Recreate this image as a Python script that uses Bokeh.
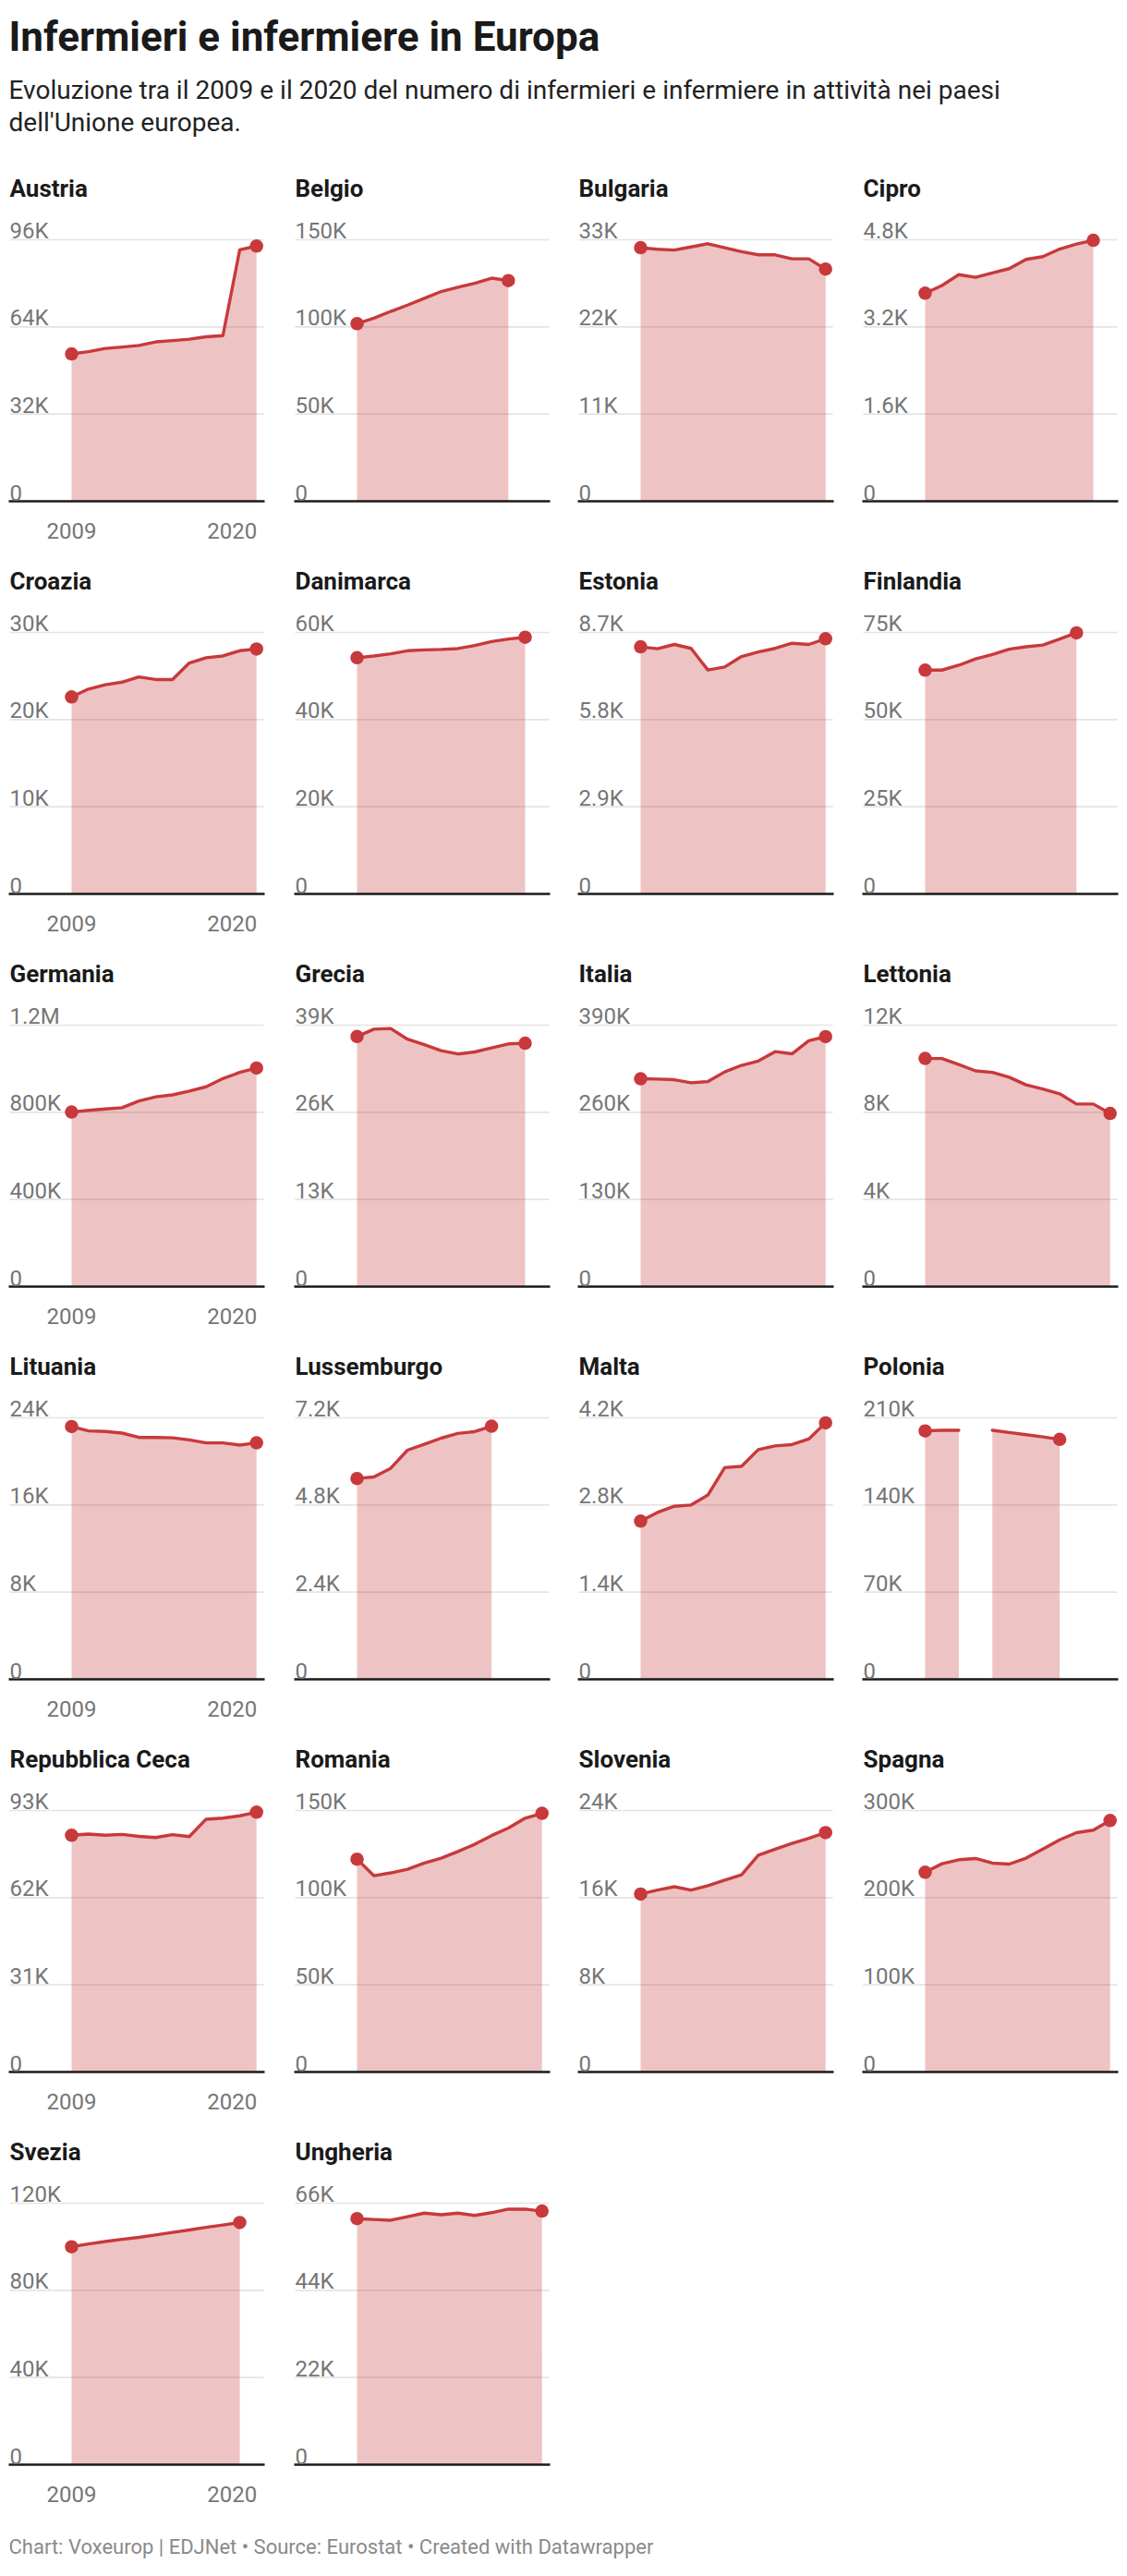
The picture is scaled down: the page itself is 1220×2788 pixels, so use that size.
import numpy as np
from bokeh.plotting import figure
from bokeh.layouts import column, row
from bokeh.models import Range1d
from bokeh.core.properties import value
from bokeh.embed import file_html
from bokeh.resources import INLINE

# ---------------- DATA (values in thousands) ----------------
years = list(range(2009, 2021))

austria = [54.1, 54.9, 56.1, 56.6, 57.2, 58.5, 59.0, 59.5, 60.4, 60.8, 92.3, 93.7]
belgio = [101.9, 105.0, 108.9, 112.5, 116.4, 120.3, 122.8, 125.0, 128.0, 126.6, None, None]
bulgaria = [32.0, 31.8, 31.7, 32.1, 32.5, 32.0, 31.5, 31.1, 31.1, 30.6, 30.6, 29.3]
cipro = [3.82, 3.96, 4.16, 4.11, 4.19, 4.27, 4.44, 4.49, 4.63, 4.72, 4.79, None]
croazia = [22.6, 23.5, 24.0, 24.3, 24.9, 24.6, 24.6, 26.5, 27.1, 27.3, 27.9, 28.1]
danimarca = [54.2, 54.6, 55.1, 55.8, 56.0, 56.1, 56.3, 57.0, 57.9, 58.5, 58.9, None]
estonia = [8.22, 8.16, 8.30, 8.17, 7.45, 7.55, 7.90, 8.05, 8.17, 8.34, 8.30, 8.49]
finlandia = [64.2, 64.2, 65.6, 67.4, 68.7, 70.2, 70.9, 71.4, 73.1, 74.9, None, None]
germania = [801, 809, 815, 821, 852, 871, 880, 897, 917, 955, 983, 1003]
grecia = [37.3, 38.4, 38.5, 36.9, 36.1, 35.2, 34.7, 35.0, 35.6, 36.2, 36.3, None]
italia = [310.0, 309.5, 308.6, 304.0, 305.8, 320.2, 330.0, 336.5, 350.5, 347.2, 366.8, 372.8]
lettonia = [10.47, 10.47, 10.19, 9.90, 9.83, 9.61, 9.26, 9.07, 8.85, 8.38, 8.38, 7.95]
lituania = [23.2, 22.8, 22.75, 22.6, 22.2, 22.2, 22.17, 21.97, 21.7, 21.7, 21.5, 21.7]
lussemburgo = [5.53, 5.57, 5.81, 6.31, 6.47, 6.64, 6.77, 6.82, 6.97, None, None, None]
malta = [2.54, 2.68, 2.78, 2.80, 2.96, 3.40, 3.42, 3.69, 3.75, 3.77, 3.86, 4.12]
polonia = [199.5, 200.0, 200.0, None, 200.0, 198.2, 196.5, 194.7, 192.7, None, None, None]
rep_ceca = [84.2, 84.6, 84.2, 84.5, 83.8, 83.4, 84.4, 83.7, 89.9, 90.3, 91.1, 92.4]
romania = [122.1, 112.6, 114.2, 116.3, 119.9, 122.6, 126.5, 130.6, 135.6, 139.9, 145.6, 148.4]
slovenia = [16.33, 16.7, 17.0, 16.7, 17.1, 17.6, 18.1, 19.9, 20.45, 20.97, 21.45, 21.97]
spagna = [229.2, 238.9, 243.5, 244.9, 239.6, 238.5, 245.3, 255.7, 266.4, 274.6, 277.5, 288.6]
svezia = [100.0, 101.3, 102.4, 103.4, 104.3, 105.4, 106.6, 107.7, 108.9, 110.0, 111.1, None]
ungheria = [62.1, 61.9, 61.7, 62.6, 63.5, 63.1, 63.5, 62.9, 63.6, 64.5, 64.5, 64.0]

names = ["Austria", "Belgio", "Bulgaria", "Cipro", "Croazia", "Danimarca", "Estonia",
         "Finlandia", "Germania", "Grecia", "Italia", "Lettonia", "Lituania",
         "Lussemburgo", "Malta", "Polonia", "Repubblica Ceca", "Romania", "Slovenia",
         "Spagna", "Svezia", "Ungheria"]
series = [austria, belgio, bulgaria, cipro, croazia, danimarca, estonia, finlandia,
          germania, grecia, italia, lettonia, lituania, lussemburgo, malta, polonia,
          rep_ceca, romania, slovenia, spagna, svezia, ungheria]
tick_values = [
    [0, 32, 64, 96], [0, 50, 100, 150], [0, 11, 22, 33], [0, 1.6, 3.2, 4.8],
    [0, 10, 20, 30], [0, 20, 40, 60], [0, 2.9, 5.8, 8.7], [0, 25, 50, 75],
    [0, 400, 800, 1200], [0, 13, 26, 39], [0, 130, 260, 390], [0, 4, 8, 12],
    [0, 8, 16, 24], [0, 2.4, 4.8, 7.2], [0, 1.4, 2.8, 4.2], [0, 70, 140, 210],
    [0, 31, 62, 93], [0, 50, 100, 150], [0, 8, 16, 24], [0, 100, 200, 300],
    [0, 40, 80, 120], [0, 22, 44, 66],
]
tick_labels = [
    ["0", "32K", "64K", "96K"], ["0", "50K", "100K", "150K"], ["0", "11K", "22K", "33K"],
    ["0", "1.6K", "3.2K", "4.8K"], ["0", "10K", "20K", "30K"], ["0", "20K", "40K", "60K"],
    ["0", "2.9K", "5.8K", "8.7K"], ["0", "25K", "50K", "75K"], ["0", "400K", "800K", "1.2M"],
    ["0", "13K", "26K", "39K"], ["0", "130K", "260K", "390K"], ["0", "4K", "8K", "12K"],
    ["0", "8K", "16K", "24K"], ["0", "2.4K", "4.8K", "7.2K"], ["0", "1.4K", "2.8K", "4.2K"],
    ["0", "70K", "140K", "210K"], ["0", "31K", "62K", "93K"], ["0", "50K", "100K", "150K"],
    ["0", "8K", "16K", "24K"], ["0", "100K", "200K", "300K"], ["0", "40K", "80K", "120K"],
    ["0", "22K", "44K", "66K"],
]
x_tick_labels = ["2009", "2020"]

title_text = "Infermieri e infermiere in Europa"
subtitle_lines = ["Evoluzione tra il 2009 e il 2020 del numero di infermieri e infermiere in attività nei paesi",
                  "dell'Unione europea."]
footer_text = "Chart: Voxeurop | EDJNet \u2022 Source: Eurostat \u2022 Created with Datawrapper"

# ---------------- STYLE / LAYOUT ----------------
FONT = value("Roboto")
RED = "#c8393b"
GRID = "#e4e4e4"
TICK_C = "#767676"
DARK = "#1a1a1a"
CELL_H = 425
BASE = 369          # baseline y (px from cell top)
TITLE_Y = 30.7      # panel title baseline (px from cell top)
PLOT_H = 283        # px from 0 to top tick
PPY = 18.2          # px per year
PANEL_OFF = 10
X2009_OFF = 67
PANEL_W = 275
COL_W = [309, 307, 308, 288]
TOTAL_W = sum(COL_W)
TEXT_X = 9


def make_cell(name, vals, ticks, labels, w, show_x):
    top = ticks[-1]
    ppu = PLOT_H / top
    xs = years[0] - (PANEL_OFF + X2009_OFF) / PPY
    p = figure(width=w, height=CELL_H,
               x_range=Range1d(xs, xs + w / PPY),
               y_range=Range1d(-(CELL_H - BASE) / ppu, BASE / ppu),
               x_axis_type=None, y_axis_type=None, toolbar_location=None,
               output_backend="svg", min_border=0, outline_line_color=None,
               background_fill_color="white", border_fill_color="white")
    p0 = xs + PANEL_OFF / PPY
    p1 = p0 + PANEL_W / PPY

    # gridlines
    gt = ticks[1:]
    p.segment(x0=[p0] * len(gt), x1=[p1] * len(gt), y0=gt, y1=gt,
              line_color=GRID, line_width=1.6)

    arr = np.array([np.nan if v is None else v for v in vals], dtype=float)
    yrs = np.array(years, dtype=float)
    # area, contiguous segments
    valid = ~np.isnan(arr)
    i = 0
    n = len(arr)
    while i < n:
        if valid[i]:
            j = i
            while j + 1 < n and valid[j + 1]:
                j += 1
            p.varea(x=yrs[i:j + 1], y1=np.zeros(j - i + 1), y2=arr[i:j + 1],
                    fill_color=RED, fill_alpha=0.3)
            i = j + 1
        else:
            i += 1
    p.line(yrs, arr, line_color=RED, line_width=3.4, line_join="round", line_cap="round")
    idx = np.where(valid)[0]
    ends = [idx[0], idx[-1]]
    p.scatter(yrs[ends], arr[ends], size=14.5, fill_color=RED, line_color=RED, line_width=0)

    # baseline
    p.segment(x0=[p0 - 1 / PPY], x1=[p1 + 1 / PPY], y0=[0], y1=[0],
              line_color=DARK, line_width=2.3)

    # y tick labels above gridlines
    p.text(x=[p0] * len(ticks), y=[t + 9.5 / ppu for t in ticks], text=labels,
           text_font=FONT, text_font_size="24px", text_color=TICK_C,
           text_align="left", text_baseline="alphabetic")
    # panel title
    p.text(x=[p0], y=[(BASE - TITLE_Y) / ppu], text=[name], text_font=FONT,
           text_font_size="26px", text_font_style="bold", text_color=DARK,
           text_align="left", text_baseline="alphabetic")
    if show_x:
        yl = -32 / ppu
        p.text(x=[years[0]], y=[yl], text=[x_tick_labels[0]], text_font=FONT,
               text_font_size="24px", text_color=TICK_C, text_align="center",
               text_baseline="alphabetic")
        p.text(x=[years[-1] + 0.6 / PPY], y=[yl], text=[x_tick_labels[1]], text_font=FONT,
               text_font_size="24px", text_color=TICK_C, text_align="right",
               text_baseline="alphabetic")
    return p


# header
HDR_H = 173
hdr = figure(width=TOTAL_W, height=HDR_H, x_range=Range1d(0, TOTAL_W),
             y_range=Range1d(HDR_H, 0), x_axis_type=None, y_axis_type=None,
             toolbar_location=None, output_backend="svg", min_border=0,
             outline_line_color=None)
hdr.text(x=[TEXT_X], y=[39], text=[title_text], text_font=FONT, text_font_size="44px",
         text_font_style="bold", text_color=DARK, text_baseline="alphabetic")
hdr.text(x=[TEXT_X, TEXT_X], y=[97, 132], text=subtitle_lines, text_font=FONT,
         text_font_size="28px", text_color="#222222", text_baseline="alphabetic")

rows = []
for r in range(6):
    figs = []
    for c in range(4):
        k = r * 4 + c
        if k >= len(names):
            break
        figs.append(make_cell(names[k], series[k], tick_values[k], tick_labels[k],
                              COL_W[c], c == 0))
    rows.append(row(*figs))

FTR_H = 49
ftr = figure(width=TOTAL_W, height=FTR_H, x_range=Range1d(0, TOTAL_W),
             y_range=Range1d(FTR_H, 0), x_axis_type=None, y_axis_type=None,
             toolbar_location=None, output_backend="svg", min_border=0,
             outline_line_color=None)
ftr.text(x=[TEXT_X], y=[33], text=[footer_text], text_font=FONT, text_font_size="22px",
         text_color="#8a8a8a", text_baseline="alphabetic")

layout = column(hdr, *rows, ftr)
open("out.html", "w").write(file_html(layout, INLINE))
